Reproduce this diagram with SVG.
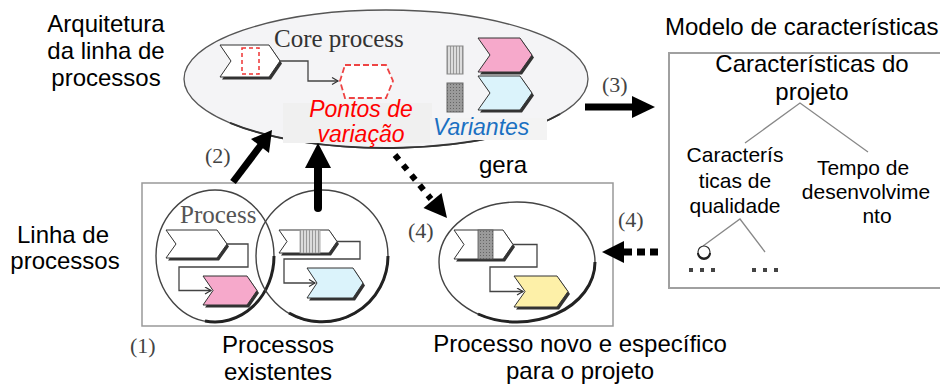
<svg xmlns="http://www.w3.org/2000/svg" width="940" height="387" viewBox="0 0 940 387">
<style>
.sans{font-family:"Liberation Sans",Arial,sans-serif;fill:#000}
.serif{font-family:"Liberation Serif","Times New Roman",serif;fill:#444}
.lbl{font-size:24px;text-anchor:middle}
.small{font-size:21px;text-anchor:middle}
.num{font-size:22px}
.chev{stroke:#333;stroke-width:1}
.shadow{fill:#333}
.conn{fill:none;stroke:#444;stroke-width:1.3}
.ring{fill:none;stroke:#444;stroke-width:1.4}
.thick{fill:none;stroke:#222;stroke-width:3}
</style>
<defs>
<marker id="op" markerWidth="9" markerHeight="9" refX="7" refY="4" orient="auto" markerUnits="userSpaceOnUse">
<path d="M1,0.5 L7,4 L1,7.5" fill="none" stroke="#333" stroke-width="1.2"/>
</marker>
<pattern id="stripes" width="3" height="4" patternUnits="userSpaceOnUse">
<rect width="3" height="4" fill="#dcdcdc"/>
<rect width="1" height="4" fill="#9a9a9a"/>
</pattern>
<pattern id="dots" width="3" height="3" patternUnits="userSpaceOnUse">
<rect width="3" height="3" fill="#9a9a9a"/>
<rect width="1" height="1" fill="#666"/>
</pattern>
</defs>
<rect width="940" height="387" fill="#fff"/>

<!-- Product line architecture -->
<g id="architecture">
<ellipse cx="386" cy="79" rx="202" ry="69" fill="#f4f4f6" stroke="#555" stroke-width="1.3"/>
<path d="M230,122.8 A202,69 0 0 0 560,114" fill="none" stroke="#333" stroke-width="2"/>
<text class="serif" x="274" y="47" font-size="25" style="fill:#333">Core process</text>
<polygon class="shadow" transform="translate(2,2.5)" points="220,45 269,45 280,61 269,77 220,77 231,61"/>
<polygon class="chev" fill="#fff" points="220,45 269,45 280,61 269,77 220,77 231,61"/>
<rect x="242" y="48" width="17" height="26" fill="none" stroke="#e33" stroke-width="1.5" stroke-dasharray="4 3"/>
<path d="M345,65 H386 L393,81 L386,98 H345 L340,81 Z" fill="#fff" stroke="#e44" stroke-width="1.8" stroke-dasharray="6 3"/>
<rect x="447" y="46" width="16" height="28" fill="url(#stripes)" stroke="#888"/>
<rect x="447" y="83" width="16" height="29" fill="url(#dots)" stroke="#666"/>
<polygon class="shadow" transform="translate(2,2.5)" points="478,38 520,38 532,55 520,72 478,72 490,55"/>
<polygon class="chev" fill="#f6a9cb" points="478,38 520,38 532,55 520,72 478,72 490,55"/>
<polygon class="shadow" transform="translate(2,2.5)" points="478,76 520,76 532,93 520,110 478,110 490,93"/>
<polygon class="chev" fill="#dbf3fb" points="478,76 520,76 532,93 520,110 478,110 490,93"/>
<rect x="283" y="103" width="149" height="40" fill="#f0f0f0"/>
<rect x="430" y="118" width="117" height="22" fill="#f3f3f3"/>
<text class="sans" x="361" y="117" font-size="23" font-style="italic" text-anchor="middle" style="fill:#f00">Pontos de</text>
<text class="sans" x="361" y="142" font-size="23" font-style="italic" text-anchor="middle" style="fill:#f00">variação</text>
<text class="sans" x="433" y="135" font-size="23" font-style="italic" style="fill:#1a70c2">Variantes</text>
</g>

<!-- Product line -->
<g id="product-line">
<rect x="142" y="183" width="471" height="143" fill="none" stroke="#999" stroke-width="1.5"/>
</g>

<g id="existing-process-1">
<ellipse class="ring" cx="215" cy="256" rx="59" ry="66"/>
<path class="thick" d="M205,321 A59,66 0 0 0 274,256"/>
<text class="serif" x="180" y="223" font-size="25" style="fill:#555">Process</text>
<polygon class="shadow" transform="translate(2,2.5)" points="166,230 217,230 227,244 217,258 166,258 176,244"/>
<polygon class="chev" fill="#fff" points="166,230 217,230 227,244 217,258 166,258 176,244"/>
<polygon class="shadow" transform="translate(2,2.5)" points="203,276 247,276 257,290.5 247,305 203,305 213,290.5"/>
<polygon class="chev" fill="#f6a9cb" points="203,276 247,276 257,290.5 247,305 203,305 213,290.5"/>
</g>

<g id="existing-process-2">
<circle class="ring" cx="322" cy="256" r="66"/>
<path class="thick" d="M289,313 A66,66 0 0 0 388,256"/>
<polygon class="shadow" transform="translate(2,2.5)" points="279,230 329,230 337,241.5 329,253 279,253 287,241.5"/>
<polygon class="chev" fill="#fff" points="279,230 329,230 337,241.5 329,253 279,253 287,241.5"/>
<rect x="300" y="230" width="20" height="23" fill="url(#stripes)" stroke="#999" stroke-width="0.8"/>
<polygon class="shadow" transform="translate(2,2.5)" points="307,268 353,268 363,283 353,298 307,298 317,283"/>
<polygon class="chev" fill="#dbf3fb" points="307,268 353,268 363,283 353,298 307,298 317,283"/>
</g>

<g id="new-process">
<ellipse class="ring" cx="517" cy="262" rx="78" ry="60"/>
<path class="thick" d="M478,314 A78,60 0 0 0 595,262"/>
<polygon class="shadow" transform="translate(2,2.5)" points="454,230 503,230 513,244.5 503,259 454,259 464,244.5"/>
<polygon class="chev" fill="#fff" points="454,230 503,230 513,244.5 503,259 454,259 464,244.5"/>
<rect x="478" y="230" width="15" height="29" fill="url(#dots)" stroke="#555" stroke-width="0.8"/>
<polygon class="shadow" transform="translate(2,2.5)" points="514,276 557,276 568,291.5 557,307 514,307 525,291.5"/>
<polygon class="chev" fill="#fdf0a8" points="514,276 557,276 568,291.5 557,307 514,307 525,291.5"/>
</g>

<!-- Feature model -->
<g id="feature-model">
<rect x="669" y="53" width="290" height="235" fill="none" stroke="#a0a0a0" stroke-width="2"/>
<text class="sans lbl" x="812" y="72">Características do</text>
<text class="sans lbl" x="812" y="100">projeto</text>
<path d="M745,143 L800,103 L868,152" fill="none" stroke="#888" stroke-width="1.3"/>
<text class="sans small" x="735" y="162">Caracterís</text>
<text class="sans small" x="735" y="188">ticas de</text>
<text class="sans small" x="735" y="213">qualidade</text>
<text class="sans small" x="863" y="175">Tempo de</text>
<text class="sans small" x="866" y="199">desenvolvime</text>
<text class="sans small" x="877" y="223">nto</text>
<path d="M703,246 L740,219 L765,252" fill="none" stroke="#888" stroke-width="1.3"/>
<circle cx="704" cy="252" r="6" fill="#fff" stroke="#333" stroke-width="1.2"/>
<path d="M698,253 A6,6 0 0 0 710,253" fill="none" stroke="#222" stroke-width="2"/>
<g fill="#444">
<rect x="689" y="268" width="4" height="4"/><rect x="700" y="268" width="4" height="4"/><rect x="711" y="268" width="4" height="4"/>
<rect x="752" y="268" width="4" height="4"/><rect x="763" y="268" width="4" height="4"/><rect x="774" y="268" width="4" height="4"/>
</g>
</g>

<!-- Connectors -->
<g id="connectors">
<path class="conn" d="M280,61 H308 V81 H338" marker-end="url(#op)"/>
<path class="conn" d="M227,244 H248 V267 H179 V290.5 H211" marker-end="url(#op)"/>
<path class="conn" d="M337,241.5 H360 V259 H284 V283 H315" marker-end="url(#op)"/>
<path class="conn" d="M513,244.5 H537 V267 H490 V291.5 H523" marker-end="url(#op)"/>
<!-- (2) -->
<line x1="233" y1="182" x2="261" y2="145" stroke="#000" stroke-width="7"/>
<polygon points="272,130 269,153 251,139" fill="#000"/>
<!-- upward arrow -->
<line x1="318" y1="208" x2="318" y2="163" stroke="#000" stroke-width="8" stroke-linecap="round"/>
<polygon points="318,143 331,168 305,168" fill="#000"/>
<!-- (3) -->
<line x1="585" y1="107" x2="634" y2="107" stroke="#000" stroke-width="7"/>
<polygon points="655,107 632,96 632,118" fill="#000"/>
<!-- (4) dotted from architecture -->
<line x1="395" y1="155" x2="431" y2="199" stroke="#000" stroke-width="6" stroke-dasharray="6 7"/>
<polygon points="447,218 441.5,193 423.5,208" fill="#000"/>
<!-- (4) dotted from feature model -->
<line x1="658" y1="252" x2="622" y2="252" stroke="#000" stroke-width="7" stroke-dasharray="8 5"/>
<polygon points="602,252 624,241 624,263" fill="#000"/>
</g>

<!-- Labels -->
<g id="labels">
<text class="sans lbl" x="106" y="32">Arquitetura</text>
<text class="sans lbl" x="106" y="59">da linha de</text>
<text class="sans lbl" x="106" y="86">processos</text>
<text class="sans" x="665" y="35" font-size="24">Modelo de características</text>
<text class="sans lbl" x="63" y="243">Linha de</text>
<text class="sans lbl" x="65" y="269">processos</text>
<text class="sans lbl" x="503" y="173">gera</text>
<text class="sans lbl" x="278" y="353">Processos</text>
<text class="sans lbl" x="278" y="380">existentes</text>
<text class="sans lbl" x="580" y="352">Processo novo e específico</text>
<text class="sans lbl" x="580" y="379">para o projeto</text>
<text class="serif num" x="130" y="353">(1)</text>
<text class="serif num" x="205" y="163">(2)</text>
<text class="serif num" x="602" y="92">(3)</text>
<text class="serif num" x="408" y="238">(4)</text>
<text class="serif num" x="618" y="227">(4)</text>
</g>
</svg>
